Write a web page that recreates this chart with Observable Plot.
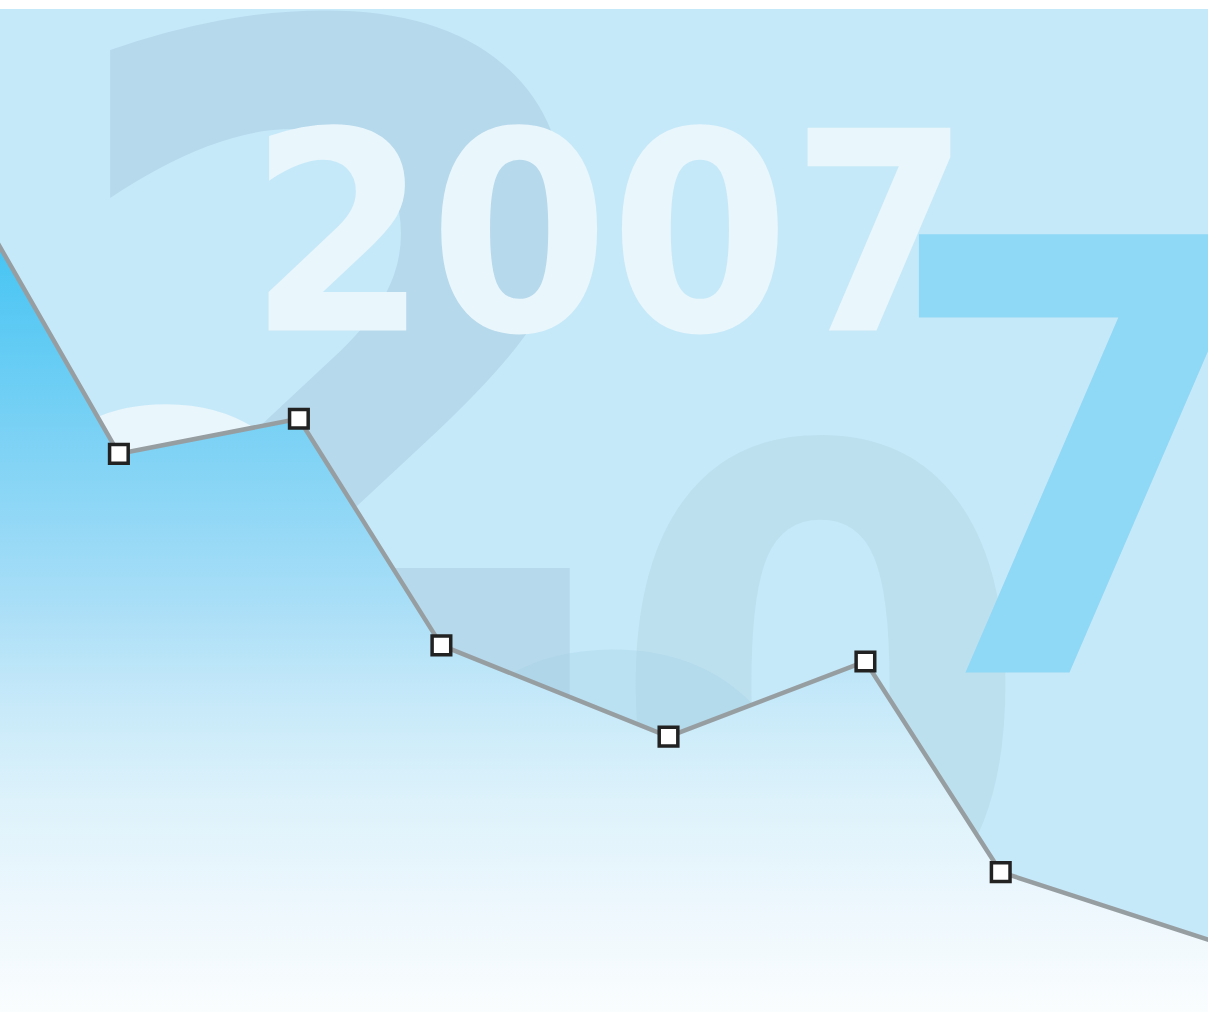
<!DOCTYPE html>
<html>
<head>
<meta charset="utf-8">
<script src="https://cdn.jsdelivr.net/npm/d3@7"></script>
<script src="https://cdn.jsdelivr.net/npm/@observablehq/plot@0.6"></script>
<style>
  html, body { margin: 0; padding: 0; background: #ffffff; }
  #chart { padding-top: 9px; width: 1208px; overflow: hidden; }
</style>
</head>
<body>
<div id="chart"></div>
<script>
// ---- data ----
const xValues = [-5.0, 9.8, 24.7, 36.5, 55.3, 71.6, 82.8, 111.8];
const yValues = [86.7, 55.7, 59.2, 36.6, 27.5, 35.0, 14.0, 2.6];
const titleText = "2007";

// decorative giant digits (background)
const bigGlyphs = ["2", "0", "7", "0", "0"];

const data = xValues.map((x, i) => ({x, y: yValues[i]}));

// ---- styling / layout (kept separate from data) ----
const W = 1208, H = 1003;
const ADV = 0.696; // digit advance (em) of DejaVu Sans Bold
const glyphStyle = [
  {dx: 342, dy: 686, size: 923, squeeze: 0.943, fill: "#b6d9ec", opacity: 1},
  {dx: 820, dy: 916, size: 661, squeeze: 0.932, fill: "#bde0ef", opacity: 1},
  {dx: 1078, dy: 663, size: 601, squeeze: 0.945, fill: "#8fd8f6", opacity: 1},
  {dx: 612, dy: 1204, size: 760, squeeze: 0.932, fill: "#9ccbe2", opacity: 0.26},
  {dx: 165, dy: 855, size: 620, squeeze: 0.932, fill: "#e9f6fc", opacity: 1}
];
const titleStyle = {dx: 609, dy: 321, size: 278, squeeze: 0.934, fill: "#e9f6fc"};

const glyphMarks = bigGlyphs.map((g, i) => {
  const s = glyphStyle[i];
  return Plot.text([g], {
    text: d => d,
    frameAnchor: "top-left",
    dx: s.dx, dy: s.dy,
    textAnchor: "middle",
    lineAnchor: "bottom",
    fontSize: s.size,
    fontFamily: "DejaVu Sans",
    fontWeight: "bold",
    fill: s.fill,
    fillOpacity: s.opacity
  });
});

const plot = Plot.plot({
  width: W,
  height: H,
  margin: 0,
  x: {domain: [0, 100], axis: null},
  y: {domain: [0, 100], axis: null},
  style: {background: "#c6e9f9", overflow: "hidden"},
  marks: [
    ...glyphMarks,
    Plot.areaY(data, {x: "x", y: "y", fill: "url(#areaGrad)", clip: true}),
    Plot.line(data, {x: "x", y: "y", stroke: "#979ea2", strokeWidth: 4.5, clip: true}),
    Plot.dot(data, {x: "x", y: "y", symbol: "square", r: 10.5, fill: "#ffffff", stroke: "#222222", strokeWidth: 3.5, clip: true}),
    Plot.text([titleText], {
      text: d => d,
      frameAnchor: "top-left",
      dx: titleStyle.dx, dy: titleStyle.dy,
      textAnchor: "middle",
      lineAnchor: "bottom",
      fontSize: titleStyle.size,
      fontFamily: "DejaVu Sans",
      fontWeight: "bold",
      fill: titleStyle.fill
    })
  ]
});

// gradient definition for the area fill
const ns = "http://www.w3.org/2000/svg";
const defs = document.createElementNS(ns, "defs");
const grad = document.createElementNS(ns, "linearGradient");
grad.setAttribute("id", "areaGrad");
grad.setAttribute("gradientUnits", "userSpaceOnUse");
grad.setAttribute("x1", 0); grad.setAttribute("x2", 0);
grad.setAttribute("y1", 0); grad.setAttribute("y2", H);
[
  [0.0, "#2fbdf2"],
  [0.23, "#45c4f3"],
  [0.443, "#80d3f5"],
  [0.589, "#a8def7"],
  [0.689, "#c6e9f9"],
  [0.789, "#ddf2fb"],
  [0.888, "#ecf7fd"],
  [1.0, "#fafdfe"]
].forEach(([o, c]) => {
  const st = document.createElementNS(ns, "stop");
  st.setAttribute("offset", o);
  st.setAttribute("stop-color", c);
  grad.appendChild(st);
});
defs.appendChild(grad);
plot.insertBefore(defs, plot.firstChild);

// slightly condensed digits (fit each text to its measured width)
const squeezes = [...glyphStyle, titleStyle];
const texts = d3.select(plot).selectAll("text").nodes();
texts.forEach((t, i) => {
  const s = squeezes[i];
  if (!s) return;
  const len = t.textContent.length * ADV * s.size * s.squeeze;
  t.setAttribute("textLength", len.toFixed(1));
  t.setAttribute("lengthAdjust", "spacingAndGlyphs");
});

document.getElementById("chart").appendChild(plot);
</script>
</body>
</html>
